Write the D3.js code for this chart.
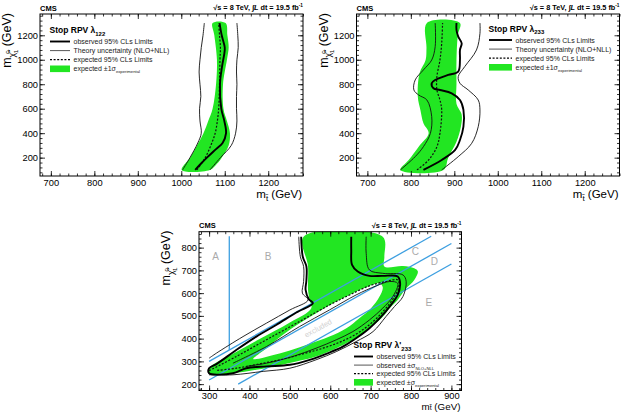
<!DOCTYPE html>
<html>
<head>
<meta charset="utf-8">
<script src="https://cdn.jsdelivr.net/npm/d3@7"></script>
<style>
  body { margin: 0; background: #fff; }
  text { font-family: "Liberation Sans", Arial, Helvetica, sans-serif; }
</style>
</head>
<body>
<svg id="chart" width="623" height="412"></svg>
<script>
var GREEN = "#22e622", BLUE = "#3d9fe0";

// ---- panel 1 : stop RPV lambda_122  [m_stop, m_chi]
var p1BandLow  = [[1001,100],[1020,200],[1036,300],[1051,400],[1062,500],[1072,600],[1080,800],[1082,1000],[1076,1200],[1072,1300]];
var p1BandHigh = [[1066,100],[1082,150],[1093,200],[1109,300],[1112,400],[1105,500],[1097,600],[1096,800],[1105,1000],[1109,1100],[1106,1200],[1102,1300]];
var p1Obs  = [[1032,100],[1045,150],[1059,200],[1080,270],[1095,320],[1103,400],[1099,500],[1092,600],[1089,800],[1094,950],[1099,1050],[1100,1100],[1093,1200],[1088,1300]];
var p1Exp  = [[1036,100],[1055,200],[1068,300],[1078,400],[1083,500],[1086,600],[1088,800],[1089,1000],[1090,1100],[1088,1200],[1086,1300]];
var p1ThLo = [[1003,100],[1020,200],[1038,320],[1046,400],[1043,500],[1042,600],[1045,700],[1043,800],[1041,900],[1043,1000],[1046,1100],[1050,1200],[1053,1300]];
var p1ThHi = [[1066,100],[1090,200],[1115,300],[1125,400],[1128,500],[1127,600],[1127,700],[1128,800],[1127,900],[1128,1000],[1131,1100],[1130,1200],[1128,1300]];

// ---- panel 2 : stop RPV lambda_233
var p2BandLow  = [[776,100],[795,181],[818,290],[841,399],[829,481],[822,590],[816,700],[820,890],[834,998],[836,1100],[837,1300]];
var p2BandHigh = [[875,100],[886,200],[905,330],[915,450],[917,550],[905,640],[905,800],[905,1000],[908,1200],[913,1300]];
var p2Obs  = [[829,100],[871,181],[902,263],[913,344],[921,453],[921,590],[913,671],[894,726],[867,753],[852,767],[848,808],[856,835],[886,876],[909,903],[913,998],[913,1080],[917,1135],[909,1189],[905,1244],[905,1300]];
var p2Exp  = [[814,100],[841,181],[860,290],[867,399],[871,590],[867,671],[860,753],[860,862],[867,998],[871,1135],[873,1300]];
var p2ThLo = [[776,100],[810,208],[829,290],[845,399],[848,535],[837,671],[818,712],[807,753],[810,835],[829,917],[848,998],[856,1107],[856,1300]];
var p2ThHi = [[871,100],[909,208],[940,317],[955,453],[959,590],[955,671],[932,753],[913,808],[909,862],[924,944],[951,1080],[959,1216],[959,1300]];

// ---- panel 3 : stop RPV lambda'_233
var p3BandOuter = [[300,245],[300,270],[359,333],[425,398],[500,471],[553,534],[549,570],[545,614],[545,717],[534,848],
  [730,848],[734,760],[734,717],[780,719],[808,709],[817,695],[808,658],[788,621],[767,570],[747,534],[734,504],[722,482],
  [697,446],[672,409],[640,380],[607,351],[565,321],[516,299],[466,280],[417,263],[359,248]];
var p3BandHole = [[409,310],[442,358],[483,417],[524,468],[565,512],[615,563],[656,600],[689,626],[722,643],
  [730,626],[722,585],[701,534],[672,490],[640,446],[598,409],[549,377],[500,348],[450,324],[417,310]];
var p3Obs = [[528,848],[532,760],[541,717],[541,658],[539,614],[547,573],[557,556],[516,515],[466,460],[417,409],[368,351],
  [318,288],[300,270],[300,248],[359,248],[392,270],[442,278],[500,285],[549,307],[598,339],[631,365],[664,402],[697,446],
  [726,497],[747,541],[767,592],[773,643],[767,673],[730,676],[697,676],[668,695],[654,724],[652,790],[652,848]];
var p3Exp = [[300,259],[368,322],[442,395],[524,475],[598,548],[648,592],[697,632],[738,651],[767,658],[770,629],[759,585],
  [734,526],[706,475],[668,424],[627,387],[582,358],[532,333],[483,310],[425,289],[368,270],[318,260]];
var p3ThA = [[522,848],[526,760],[534,717],[534,651],[531,600],[545,570],[500,526],[442,468],[384,409],[318,336],[300,314]];
var p3ThB = [[689,848],[689,775],[697,702],[730,687],[780,680],[788,651],[780,585],[759,541],[738,497],[706,431],[664,387],
  [615,343],[565,307],[500,270],[434,256],[359,241],[300,241]];
var p3ThC = [[359,292],[442,365],[524,453],[598,526],[664,592],[714,632],[747,651],[767,643],[755,585],[730,534],[697,482],
  [656,431],[615,395],[565,358],[508,322],[442,292],[392,278]];
var p3Blue = [[[300,300],[850,850]], [[300,218],[900,818]], [[372,200],[900,728]], [[350,350],[350,850]]];
var p3Regions = [["A",316,744],["B",446,744],["C",811,766],["D",858,722],["E",844,542]];

var svg = d3.select("#chart");
svg.append("rect").attr("width", 623).attr("height", 412).attr("fill", "#fff");

// text with sub/superscripts: parts = [text, shift(em), scale, dx, italic]
function rich(sel, parts, size) {
  var prev = 0;
  parts.forEach(function (p) {
    var want = (p[1] || 0) * size;
    var t = sel.append("tspan").text(p[0]).attr("dy", want - prev)
      .attr("font-size", size * (p[2] || 1));
    if (p[3]) t.attr("dx", p[3]);
    if (p[4]) t.attr("font-style", "italic");
    prev = want;
  });
}

function mtParts(sub) { return [["m", 0, 1], ["t\u0303", sub, 0.7], [" (GeV)", 0, 1]]; }
var mchiParts = [["m", 0, 1], ["\u03c7\u0303", 0.3, 0.7], ["0", -0.1, 0.5, -1], ["1", 0.55, 0.5, -3], [" (GeV)", 0, 1]];
var lumiParts = [["\u221as = 8 TeV, \u222b", 0, 1], ["L", 0, 1, 0, true], [" dt = 19.5 fb", 0, 1], ["-1", -0.4, 0.65]];

function drawPanel(cfg) {
  var g = svg.append("g");
  var x = d3.scaleLinear().domain(cfg.xDom).range([cfg.left, cfg.right]);
  var y = d3.scaleLinear().domain(cfg.yDom).range([cfg.bottom, cfg.top]);
  var clipId = "clip" + cfg.id;
  g.append("clipPath").attr("id", clipId).append("rect")
    .attr("x", cfg.left).attr("y", cfg.top)
    .attr("width", cfg.right - cfg.left).attr("height", cfg.bottom - cfg.top);
  var plot = g.append("g").attr("clip-path", "url(#" + clipId + ")");

  var line = d3.line().x(function (d) { return x(d[0]); }).y(function (d) { return y(d[1]); })
    .curve(d3.curveCatmullRom.alpha(0.5));
  var ring = d3.line().x(function (d) { return x(d[0]); }).y(function (d) { return y(d[1]); })
    .curve(d3.curveCatmullRomClosed.alpha(0.5));

  // expected +-1 sigma band
  var bandD = cfg.bandRings.map(function (r) { return ring(r); }).join(" ");
  plot.append("path").attr("d", bandD).attr("fill", GREEN).attr("fill-rule", "evenodd").attr("stroke", "none");

  (cfg.extra || function () {})(plot, x, y);

  cfg.thin.forEach(function (c) {
    plot.append("path").attr("d", line(c)).attr("fill", "none").attr("stroke", "#111").attr("stroke-width", 0.9);
  });
  plot.append("path").attr("d", line(cfg.exp)).attr("fill", "none").attr("stroke", "#111")
    .attr("stroke-width", 1.2).attr("stroke-dasharray", "2,1.6");
  plot.append("path").attr("d", line(cfg.obs)).attr("fill", "none").attr("stroke", "#000").attr("stroke-width", 1.9);

  // axes, ROOT style: ticks inside on all four sides
  function ticks(dom, step) {
    return d3.range(Math.ceil(dom[0] / step) * step, dom[1] + 0.001, step);
  }
  var xMaj = ticks(cfg.xDom, cfg.xStep), xMin = ticks(cfg.xDom, cfg.xStep / 5);
  var yMaj = ticks(cfg.yDom, cfg.yStep), yMin = ticks(cfg.yDom, cfg.yStep / 5);
  var ax = g.append("g");
  function put(axis, tx, ty, labels) {
    var s = ax.append("g").attr("transform", "translate(" + tx + "," + ty + ")").call(axis);
    s.select(".domain").remove();
    s.selectAll("line").attr("stroke", "#000").attr("stroke-width", 0.8);
    if (!labels) s.selectAll("text").remove();
    else s.selectAll("text").attr("font-size", 9.3).attr("fill", "#000")
      .attr("font-family", "'Liberation Sans', Arial, sans-serif");
    return s;
  }
  put(d3.axisBottom(x).tickValues(xMaj).tickSizeInner(-5).tickSizeOuter(0).tickPadding(cfg.xPad).tickFormat(d3.format("d")), 0, cfg.bottom, true);
  put(d3.axisBottom(x).tickValues(xMin).tickSizeInner(-2.5).tickSizeOuter(0), 0, cfg.bottom, false);
  put(d3.axisTop(x).tickValues(xMaj).tickSizeInner(-5).tickSizeOuter(0), 0, cfg.top, false);
  put(d3.axisTop(x).tickValues(xMin).tickSizeInner(-2.5).tickSizeOuter(0), 0, cfg.top, false);
  put(d3.axisLeft(y).tickValues(yMaj).tickSizeInner(-5).tickSizeOuter(0).tickPadding(2).tickFormat(d3.format("d")), cfg.left, 0, true);
  put(d3.axisLeft(y).tickValues(yMin).tickSizeInner(-2.5).tickSizeOuter(0), cfg.left, 0, false);
  put(d3.axisRight(y).tickValues(yMaj).tickSizeInner(-5).tickSizeOuter(0), cfg.right, 0, false);
  put(d3.axisRight(y).tickValues(yMin).tickSizeInner(-2.5).tickSizeOuter(0), cfg.right, 0, false);

  g.append("rect").attr("x", cfg.left).attr("y", cfg.top)
    .attr("width", cfg.right - cfg.left).attr("height", cfg.bottom - cfg.top)
    .attr("fill", "none").attr("stroke", "#000").attr("stroke-width", 1);

  // titles
  g.append("text").attr("x", cfg.left).attr("y", cfg.top - 3.5).attr("font-size", 7.5)
    .attr("font-weight", "bold").text("CMS");
  rich(g.append("text").attr("x", cfg.right).attr("y", cfg.top - 4).attr("text-anchor", "end")
    .attr("font-weight", "bold"), lumiParts, 7.3);
  rich(g.append("text").attr("x", cfg.right - 1).attr("y", cfg.bottom + cfg.xTitleDy).attr("text-anchor", "end"),
    mtParts(cfg.xTitleSub), cfg.xTitleSize);
  rich(g.append("text").attr("transform", "translate(" + (cfg.left - 29) + "," + (cfg.top - 1) + ") rotate(-90)")
    .attr("text-anchor", "end"), mchiParts, 12.5);

  // legend
  var lg = g.append("g").attr("transform", "translate(" + cfg.legX + "," + cfg.legY + ")");
  rich(lg.append("text").attr("x", 0).attr("y", 0).attr("font-weight", "bold"), cfg.legTitle, 8.5);
  cfg.legRows.forEach(function (r, i) {
    var yy = 8.5 + i * cfg.legGap;
    if (r.kind === "box") {
      lg.append("rect").attr("x", 0.5).attr("y", yy - 3.3).attr("width", cfg.legLine).attr("height", 6.6).attr("fill", GREEN);
    } else {
      lg.append("line").attr("x1", 0.5).attr("x2", cfg.legLine + 0.5).attr("y1", yy).attr("y2", yy)
        .attr("stroke", r.kind === "thin" ? "#444" : "#000")
        .attr("stroke-width", r.kind === "thick" ? 1.9 : r.kind === "dash" ? 1.2 : 0.9)
        .attr("stroke-dasharray", r.kind === "dash" ? "2,1.6" : null);
    }
    rich(lg.append("text").attr("x", cfg.legLine + 4).attr("y", yy + 2.5).attr("fill", "#222"), r.parts, 7);
  });
}

var legRows12 = [
  { kind: "thick", parts: [["observed 95% CLs Limits"]] },
  { kind: "thin", parts: [["Theory uncertainty (NLO+NLL)"]] },
  { kind: "dash", parts: [["expected 95% CLs Limits"]] },
  { kind: "box", parts: [["expected \u00b11\u03c3"], ["experimental", 0.3, 0.6]] }
];

drawPanel({
  id: 1, left: 40, right: 303, top: 14, bottom: 176, xDom: [675, 1280], yDom: [50, 1374], xStep: 100, yStep: 200,
  bandRings: [p1BandLow.concat(p1BandHigh.slice().reverse())],
  obs: p1Obs, exp: p1Exp, thin: [p1ThLo, p1ThHi], xTitleDy: 22, xTitleSize: 11.5, xTitleSub: 0.22, xPad: 3.5,
  legX: 49.5, legY: 33, legGap: 9.1, legLine: 20,
  legTitle: [["Stop RPV \u03bb"], ["122", 0.3, 0.7]], legRows: legRows12
});

drawPanel({
  id: 2, left: 356.5, right: 619.5, top: 14, bottom: 176, xDom: [675, 1280], yDom: [50, 1374], xStep: 100, yStep: 200,
  bandRings: [p2BandLow.concat(p2BandHigh.slice().reverse())],
  obs: p2Obs, exp: p2Exp, thin: [p2ThLo, p2ThHi], xTitleDy: 22, xTitleSize: 11.5, xTitleSub: 0.22, xPad: 3.5,
  legX: 488.5, legY: 31.5, legGap: 9.1, legLine: 23,
  legTitle: [["Stop RPV \u03bb"], ["233", 0.3, 0.7]], legRows: legRows12
});

drawPanel({
  id: 3, left: 199, right: 461.5, top: 231.7, bottom: 390.5, xDom: [275, 925], yDom: [172, 870], xStep: 100, yStep: 100,
  bandRings: [p3BandOuter, p3BandHole],
  obs: p3Obs, exp: p3Exp, thin: [p3ThA, p3ThB, p3ThC], xTitleDy: 19, xTitleSize: 9.8, xTitleSub: 0.08, xPad: 1.5,
  legX: 353.5, legY: 348, legGap: 8.6, legLine: 19,
  legTitle: [["Stop RPV \u03bb'"], ["233", 0.3, 0.7]],
  legRows: [
    { kind: "thick", parts: [["observed 95% CLs Limits"]] },
    { kind: "thin", parts: [["observed \u00b1\u03c3"], ["NLO+NLL", 0.3, 0.6]] },
    { kind: "dash", parts: [["expected 95% CLs Limits"]] },
    { kind: "box", parts: [["expected \u00b1\u03c3"], ["experimental", 0.3, 0.6]] }
  ],
  extra: function (plot, x, y) {
    p3Blue.forEach(function (b) {
      plot.append("line").attr("x1", x(b[0][0])).attr("y1", y(b[0][1])).attr("x2", x(b[1][0])).attr("y2", y(b[1][1]))
        .attr("stroke", BLUE).attr("stroke-width", 1.3);
    });
    p3Regions.forEach(function (r) {
      plot.append("text").attr("x", x(r[1])).attr("y", y(r[2])).attr("text-anchor", "middle")
        .attr("font-size", 10).attr("fill", "#aaa").text(r[0]);
    });
    plot.append("text").attr("transform", "translate(" + x(573) + "," + y(436) + ") rotate(-29)")
      .attr("text-anchor", "middle").attr("font-size", 7.5).attr("fill", "#d0d0d0").text("excluded");
  }
});
</script>
</body>
</html>
